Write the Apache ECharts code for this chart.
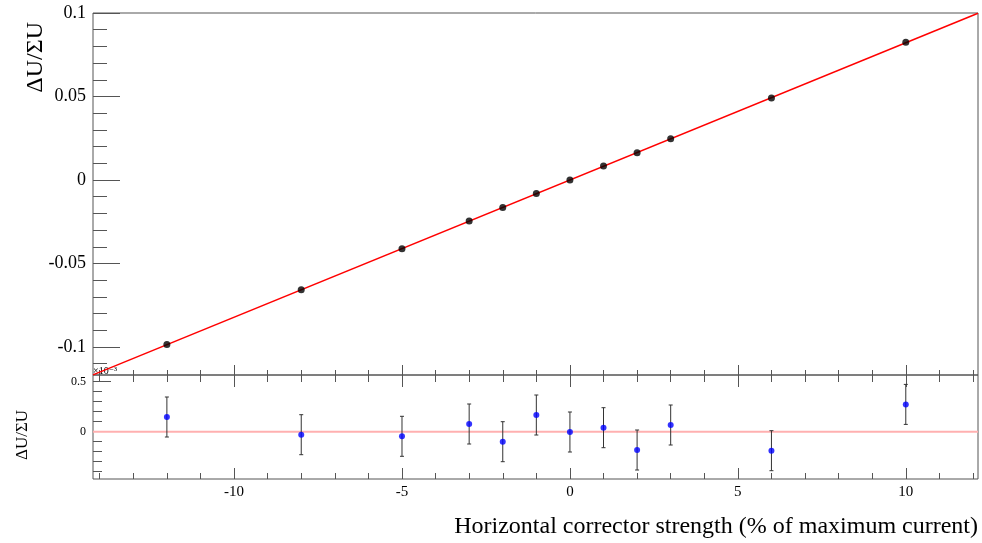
<!DOCTYPE html>
<html>
<head>
<meta charset="utf-8">
<script src="https://cdn.jsdelivr.net/npm/echarts@6/dist/echarts.min.js"></script>
<style>
  html, body { margin: 0; padding: 0; background: #fff; }
  #main { width: 982px; height: 543px; }
</style>
</head>
<body>
<div id="main"></div>
<script>
// corrector strength (% of maximum current)
var strengthList = [-12, -8, -5, -3, -2, -1, 0, 1, 2, 3, 6, 10];
// measured ΔU/ΣU
var ratioList = [-0.0985, -0.0658, -0.0412, -0.0246, -0.0165, -0.0081, 0, 0.0083, 0.0163, 0.0247, 0.0491, 0.0825];
// residuals (x10^-3) and their errors
var residList = [0.147, -0.03, -0.046, 0.077, -0.10, 0.167, -0.003, 0.04, -0.183, 0.067, -0.19, 0.273];
var residErrList = [0.2, 0.2, 0.2, 0.2, 0.2, 0.2, 0.2, 0.2, 0.2, 0.2, 0.2, 0.2];
// linear fit
var fitSlope = 0.00822;
var fitOffset = 0;
var xRange = [-14.2, 12.15];

// tick values
var xMajorTicks = [-10, -5, 0, 5, 10];
var xMinorTicks = [-14, -13, -12, -11, -10, -9, -8, -7, -6, -5, -4, -3, -2, -1, 0, 1, 2, 3, 4, 5, 6, 7, 8, 9, 10, 11, 12];
var topYMajorTicks = [-0.1, -0.05, 0, 0.05, 0.1];
var topYMinorTicks = [-0.11, -0.1, -0.09, -0.08, -0.07, -0.06, -0.05, -0.04, -0.03, -0.02, -0.01, 0,
    0.01, 0.02, 0.03, 0.04, 0.05, 0.06, 0.07, 0.08, 0.09, 0.1];
var botYMajorTicks = [0, 0.5];
var botYMinorTicks = [-0.4, -0.3, -0.2, -0.1, 0, 0.1, 0.2, 0.3, 0.4, 0.5];

var serif = '"Liberation Serif", "DejaVu Serif", serif';
var axisColor = '#555';

function xAxisDef(grid, pos, ticks, len, labels) {
    return {
        type: 'value', gridIndex: grid, position: pos,
        min: xRange[0], max: xRange[1],
        axisLine: { show: false, onZero: false },
        splitLine: { show: false },
        axisTick: { show: true, inside: true, length: len, customValues: ticks,
            lineStyle: { color: axisColor, width: 1 } },
        axisLabel: labels ? { show: true, customValues: xMajorTicks, margin: 6,
            fontFamily: serif, fontSize: 15, color: '#000' } : { show: false }
    };
}

function yAxisDef(grid, min, max, ticks, len, labels, fs) {
    return {
        type: 'value', gridIndex: grid, position: 'left',
        min: min, max: max,
        axisLine: { show: false, onZero: false },
        splitLine: { show: false },
        axisTick: { show: true, inside: true, length: len, customValues: ticks,
            lineStyle: { color: axisColor, width: 1 } },
        axisLabel: labels ? { show: true, customValues: labels, margin: 7,
            fontFamily: serif, fontSize: fs, color: '#000' } : { show: false }
    };
}

var ratioData = strengthList.map(function (x, i) { return [x, ratioList[i]]; });
var residData = strengthList.map(function (x, i) { return [x, residList[i], residErrList[i]]; });
var fitData = xRange.map(function (x) { return [x, fitSlope * x + fitOffset]; });

var myChart = echarts.init(document.getElementById('main'));
var option = {
    animation: false,
    backgroundColor: '#fff',
    grid: [
        { left: 93, top: 13, width: 885, height: 362, show: true, borderColor: axisColor, borderWidth: 1, backgroundColor: 'transparent' },
        { left: 93, top: 375, width: 885, height: 104, show: true, borderColor: axisColor, borderWidth: 1, backgroundColor: 'transparent' }
    ],
    xAxis: [
        xAxisDef(0, 'bottom', xMajorTicks, 10, false),
        xAxisDef(0, 'bottom', xMinorTicks, 5, false),
        xAxisDef(1, 'top', xMajorTicks, 12, false),
        xAxisDef(1, 'top', xMinorTicks, 7, false),
        xAxisDef(1, 'bottom', xMajorTicks, 11, true),
        xAxisDef(1, 'bottom', xMinorTicks, 6, false)
    ],
    yAxis: [
        yAxisDef(0, -0.1168, 0.1, topYMajorTicks, 27, topYMajorTicks, 18),
        yAxisDef(0, -0.1168, 0.1, topYMinorTicks, 14, null, 0),
        yAxisDef(1, -0.473, 0.567, botYMajorTicks, 18, botYMajorTicks, 12),
        yAxisDef(1, -0.473, 0.567, botYMinorTicks, 9, null, 0)
    ],
    graphic: [
        { type: 'text', x: 36, y: 22, rotation: Math.PI / 2,
          style: { text: 'ΔU/ΣU', font: '24px ' + serif, fill: '#000', align: 'right', verticalAlign: 'middle' } },
        { type: 'text', x: 23, y: 435, rotation: Math.PI / 2,
          style: { text: 'ΔU/ΣU', font: '17px ' + serif, fill: '#000', align: 'center', verticalAlign: 'middle' } },
        { type: 'text', x: 93, y: 371,
          style: { text: '×10⁻³', font: '10px ' + serif, fill: '#000', align: 'left', verticalAlign: 'middle' } },
        { type: 'text', x: 978, y: 527,
          style: { text: 'Horizontal corrector strength (% of maximum current)', font: '24px ' + serif, fill: '#000', align: 'right', verticalAlign: 'middle' } }
    ],
    series: [
        {
            type: 'line', xAxisIndex: 0, yAxisIndex: 0, data: fitData,
            symbol: 'none', lineStyle: { color: '#ff0000', width: 1.5 }, z: 2
        },
        {
            type: 'scatter', xAxisIndex: 0, yAxisIndex: 0, data: ratioData,
            symbol: 'circle', symbolSize: 7, itemStyle: { color: '#000' }, z: 3
        },
        {
            type: 'line', xAxisIndex: 4, yAxisIndex: 2, data: [[xRange[0], 0], [xRange[1], 0]],
            symbol: 'none', lineStyle: { color: '#ffb0b0', width: 2 }, z: 1
        },
        {
            type: 'custom', xAxisIndex: 4, yAxisIndex: 2, data: residData, z: 2,
            renderItem: function (params, api) {
                var x = api.value(0), y = api.value(1), e = api.value(2);
                var lo = api.coord([x, y - e]);
                var hi = api.coord([x, y + e]);
                var st = { stroke: '#333', lineWidth: 1 };
                return {
                    type: 'group',
                    children: [
                        { type: 'line', shape: { x1: lo[0], y1: lo[1], x2: hi[0], y2: hi[1] }, style: st },
                        { type: 'line', shape: { x1: lo[0] - 2, y1: lo[1], x2: lo[0] + 2, y2: lo[1] }, style: st },
                        { type: 'line', shape: { x1: hi[0] - 2, y1: hi[1], x2: hi[0] + 2, y2: hi[1] }, style: st }
                    ]
                };
            }
        },
        {
            type: 'scatter', xAxisIndex: 4, yAxisIndex: 2, data: residData,
            symbol: 'circle', symbolSize: 6, itemStyle: { color: '#0000ff' }, z: 3
        }
    ]
};
myChart.setOption(option);
</script>
</body>
</html>
